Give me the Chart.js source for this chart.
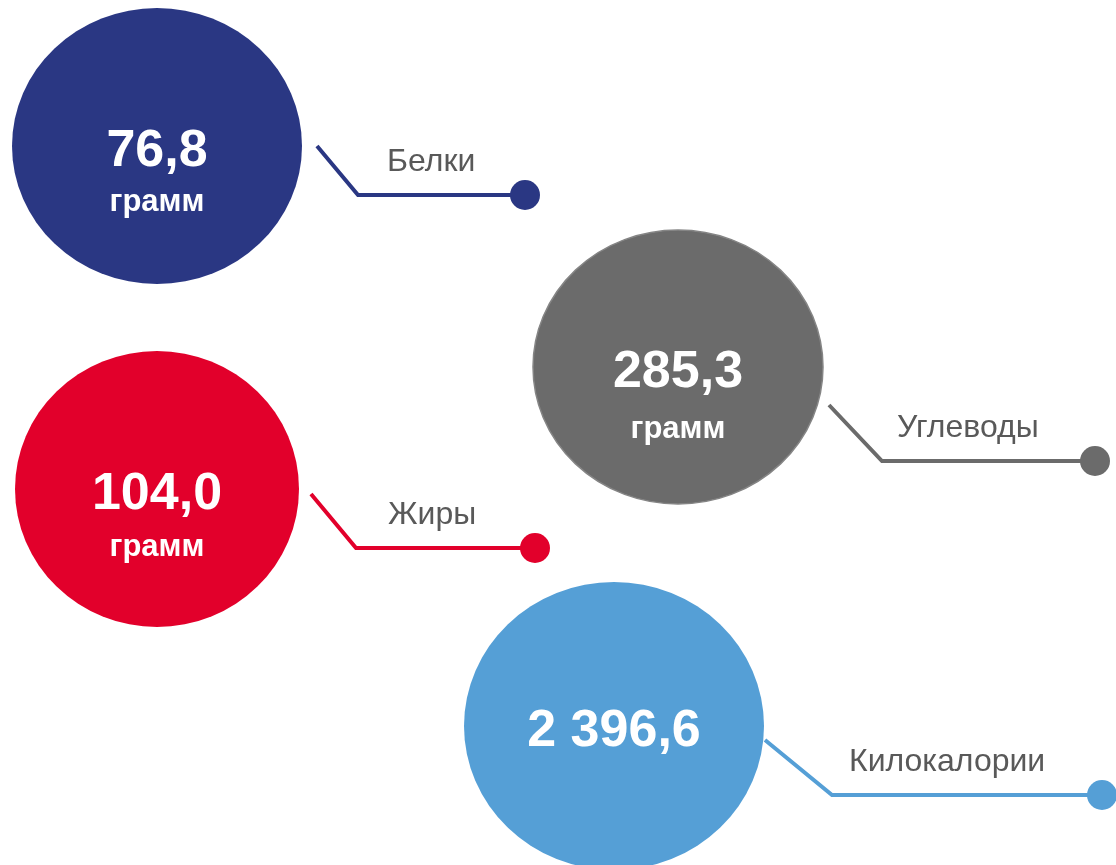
<!DOCTYPE html>
<html lang="ru">
<head>
<meta charset="utf-8">
<title>Пищевая ценность</title>
<script src="https://cdn.jsdelivr.net/npm/chart.js@4.4.1/dist/chart.umd.min.js"></script>
<style>
  html, body { margin: 0; padding: 0; background: #fff; }
  #wrap { width: 1116px; height: 865px; position: relative; }
</style>
</head>
<body>
<div id="wrap"><canvas id="nutri"></canvas></div>
<script>
// --- data ---
const categories = ['Белки', 'Углеводы', 'Жиры', 'Килокалории'];
const values = [76.8, 285.3, 104.0, 2396.6];
const units = ['грамм', 'грамм', 'грамм', ''];

// --- layout / style (scale units are page pixels) ---
const colors = ['#2A3783', '#6B6B6B', '#E2002B', '#559FD6'];
const edgeColors = [null, '#858585', null, null];
const slotX = [157, 678, 157, 614];
const slotY = [146, 367, 489, 726];
const radX = [145, 145, 142, 150];
const radY = [138, 137, 138, 144];
const unitDy = [65, 71, 67, 0];
// leader: start offset, elbow offset, end x offset, label x offset (all from circle centre)
const leaders = [
  { sx: 160, sy: 0,  ex: 201, ey: 49, endX: 368, lx: 230 },
  { sx: 151, sy: 38, ex: 204, ey: 94, endX: 417, lx: 219 },
  { sx: 154, sy: 5,  ex: 199, ey: 59, endX: 378, lx: 231 },
  { sx: 151, sy: 14, ex: 218, ey: 69, endX: 488, lx: 235 }
];

function fmt(v) {
  const [i, d] = v.toFixed(1).split('.');
  return i.replace(/\B(?=(\d{3})+(?!\d))/g, ' ') + ',' + d;
}

// slightly squashed discs, used as the bubble point style
function ellipseStyle(i) {
  const c = document.createElement('canvas');
  c.width = radX[i] * 2 + 2;
  c.height = radY[i] * 2 + 2;
  const g = c.getContext('2d');
  g.beginPath();
  g.ellipse(c.width / 2, c.height / 2, radX[i], radY[i], 0, 0, Math.PI * 2);
  g.fillStyle = colors[i];
  g.fill();
  if (edgeColors[i]) {
    g.lineWidth = 1.5;
    g.strokeStyle = edgeColors[i];
    g.stroke();
  }
  return c;
}

const FONT = '"Liberation Sans", Arial, sans-serif';

const labelsPlugin = {
  id: 'nutriLabels',
  beforeDatasetsDraw(chart) {
    const ctx = chart.ctx;
    const meta = chart.getDatasetMeta(0);
    meta.data.forEach((pt, i) => {
      const L = leaders[i];
      ctx.save();
      ctx.strokeStyle = colors[i];
      ctx.lineWidth = 4;
      ctx.lineJoin = 'miter';
      ctx.beginPath();
      ctx.moveTo(pt.x + L.sx, pt.y + L.sy);
      ctx.lineTo(pt.x + L.ex, pt.y + L.ey);
      ctx.lineTo(pt.x + L.endX, pt.y + L.ey);
      ctx.stroke();
      ctx.beginPath();
      ctx.arc(pt.x + L.endX, pt.y + L.ey, 15, 0, Math.PI * 2);
      ctx.fillStyle = colors[i];
      ctx.fill();

      ctx.fillStyle = '#595959';
      ctx.font = '32px ' + FONT;
      ctx.textAlign = 'left';
      ctx.textBaseline = 'alphabetic';
      ctx.fillText(categories[i], pt.x + L.lx, pt.y + L.ey - 24);
      ctx.restore();
    });
  },
  afterDatasetsDraw(chart) {
    const ctx = chart.ctx;
    const meta = chart.getDatasetMeta(0);
    meta.data.forEach((pt, i) => {
      ctx.save();
      ctx.fillStyle = '#fff';
      ctx.textAlign = 'center';
      ctx.textBaseline = 'alphabetic';
      ctx.font = 'bold 52px ' + FONT;
      ctx.fillText(fmt(values[i]), pt.x, pt.y + 20);
      if (units[i]) {
        ctx.font = 'bold 31px ' + FONT;
        ctx.fillText(units[i], pt.x, pt.y + unitDy[i]);
      }
      ctx.restore();
    });
  }
};

new Chart(document.getElementById('nutri'), {
  type: 'bubble',
  data: {
    labels: categories,
    datasets: [{
      data: values.map((v, i) => ({ x: slotX[i], y: slotY[i], r: radX[i] })),
      pointStyle: categories.map((c, i) => ellipseStyle(i)),
      backgroundColor: colors,
      borderColor: colors,
      borderWidth: 0,
      clip: false
    }]
  },
  options: {
    responsive: true,
    maintainAspectRatio: false,
    animation: false,
    events: [],
    layout: { padding: 0, autoPadding: false },
    plugins: { legend: { display: false }, tooltip: { enabled: false } },
    scales: {
      x: { type: 'linear', min: 0, max: 1116, display: false },
      y: { type: 'linear', min: 0, max: 865, reverse: true, display: false }
    }
  },
  plugins: [labelsPlugin]
});
</script>
</body>
</html>
